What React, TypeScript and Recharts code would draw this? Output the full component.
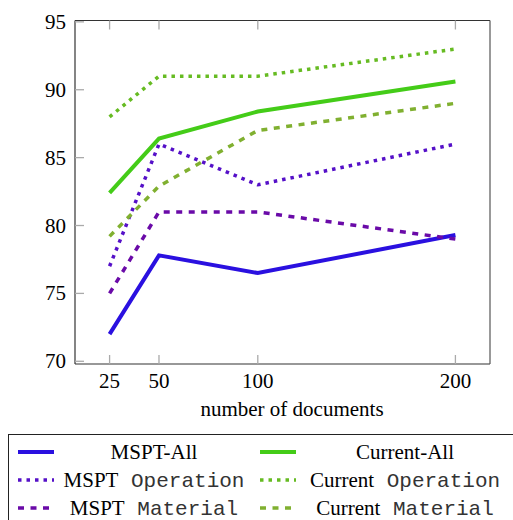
import React from "react"
import { LineChart, Line, XAxis, YAxis } from "recharts"

// number of documents
const docs = [25, 50, 100, 200]
const xTicks = [25, 50, 100, 200]
const yTicks = [70, 75, 80, 85, 90, 95]

const msptAll = [72, 77.8, 76.5, 79.3]
const currentAll = [82.4, 86.4, 88.4, 90.6]
const msptOperation = [77, 86, 83, 86]
const currentOperation = [88, 91, 91, 93]
const msptMaterial = [75, 81, 81, 79]
const currentMaterial = [79.2, 82.9, 87, 89]

const chartData = docs.map((d, i) => ({
  docs: d,
  msptAll: msptAll[i],
  currentAll: currentAll[i],
  msptOperation: msptOperation[i],
  currentOperation: currentOperation[i],
  msptMaterial: msptMaterial[i],
  currentMaterial: currentMaterial[i],
}))

const SERIF = "Liberation Serif, serif"
const MONO = "Liberation Mono, monospace"
const TICK_LEN = 9
const TICK_GAP = 8

const series = [
  { key: "msptAll", color: "#2a10e0", dash: undefined, width: 4, label: "MSPT-All", mono: "" },
  { key: "currentAll", color: "#44cc18", dash: undefined, width: 4, label: "Current-All", mono: "" },
  { key: "msptOperation", color: "#5510c8", dash: "3.5 5", width: 3.5, label: "MSPT", mono: "Operation" },
  { key: "currentOperation", color: "#66bb22", dash: "3.5 5", width: 3.5, label: "Current", mono: "Operation" },
  { key: "msptMaterial", color: "#6a0aa8", dash: "6 6.5", width: 3.5, label: "MSPT", mono: "Material" },
  { key: "currentMaterial", color: "#80b030", dash: "6 6.5", width: 3.5, label: "Current", mono: "Material" },
]

const tickText = { fontFamily: SERIF, fontSize: 21 }

// tick renderers: labels outside, tick marks drawn inward
const BottomTick = (props: any) => {
  const { x, y, payload } = props
  const axisY = y - TICK_GAP
  return (
    <g>
      <line x1={x} x2={x} y1={axisY} y2={axisY - TICK_LEN} stroke="#aaa" strokeWidth={1.3} />
      <text x={x} y={axisY + 24} textAnchor="middle" style={tickText} fill="#000">
        {payload.value}
      </text>
    </g>
  )
}

const TopTick = (props: any) => {
  const { x, y } = props
  const axisY = y + TICK_GAP
  return <line x1={x} x2={x} y1={axisY} y2={axisY + TICK_LEN} stroke="#aaa" strokeWidth={1.3} />
}

const LeftTick = (props: any) => {
  const { x, y, payload } = props
  const axisX = x + TICK_GAP
  return (
    <g>
      <line x1={axisX} x2={axisX + TICK_LEN} y1={y} y2={y} stroke="#aaa" strokeWidth={1.3} />
      <text x={axisX - 9} y={y + 7} textAnchor="end" style={tickText} fill="#000">
        {payload.value}
      </text>
    </g>
  )
}

const RightTick = (props: any) => {
  const { x, y } = props
  const axisX = x - TICK_GAP
  return <line x1={axisX} x2={axisX - TICK_LEN} y1={y} y2={y} stroke="#aaa" strokeWidth={1.3} />
}

function LegendRow({ s }: { s: (typeof series)[number] }) {
  return (
    <div style={{ display: "flex", alignItems: "center", height: 28 }}>
      <svg width={48} height={10} style={{ flex: "none" }}>
        <line x1={9} x2={45} y1={5} y2={5} stroke={s.color} strokeWidth={s.width} strokeDasharray={s.dash} />
      </svg>
      <div style={{ flex: 1, textAlign: "center", fontFamily: SERIF, fontSize: 21, whiteSpace: "nowrap" }}>
        {s.label}
        {s.mono && <span style={{ fontFamily: MONO, fontSize: 21, color: "#333" }}> {s.mono}</span>}
      </div>
    </div>
  )
}

export default function App() {
  return (
    <div style={{ position: "relative", width: 513, height: 520, background: "#fff", overflow: "hidden" }}>
      <style>{"body{margin:0}"}</style>
      <LineChart width={513} height={400} data={chartData} margin={{ top: 0, right: 0, left: 0, bottom: 0 }}>
        <XAxis
          xAxisId="b"
          dataKey="docs"
          type="number"
          domain={[7.5, 217.5]}
          ticks={xTicks}
          tickLine={false}
          tickSize={0}
          tickMargin={TICK_GAP}
          axisLine={{ stroke: "#333", strokeWidth: 1.2 }}
          tick={<BottomTick />}
          height={36}
        />
        <XAxis
          xAxisId="t"
          orientation="top"
          dataKey="docs"
          type="number"
          domain={[7.5, 217.5]}
          ticks={xTicks}
          tickLine={false}
          tickSize={0}
          tickMargin={TICK_GAP}
          axisLine={{ stroke: "#333", strokeWidth: 1.2 }}
          tick={<TopTick />}
          height={20.5}
        />
        <YAxis
          yAxisId="l"
          type="number"
          domain={[69.8, 95.1]}
          ticks={yTicks}
          tickLine={false}
          tickSize={0}
          tickMargin={TICK_GAP}
          axisLine={{ stroke: "#333", strokeWidth: 1.2 }}
          tick={<LeftTick />}
          width={75}
        />
        <YAxis
          yAxisId="r"
          orientation="right"
          type="number"
          domain={[69.8, 95.1]}
          ticks={yTicks}
          tickLine={false}
          tickSize={0}
          tickMargin={TICK_GAP}
          axisLine={{ stroke: "#555", strokeWidth: 1.2 }}
          tick={<RightTick />}
          width={23}
        />
        {series.map((s) => (
          <Line
            key={s.key}
            xAxisId="b"
            yAxisId="l"
            dataKey={s.key}
            type="linear"
            stroke={s.color}
            strokeWidth={s.width}
            strokeDasharray={s.dash}
            dot={false}
            activeDot={false}
            isAnimationActive={false}
          />
        ))}
      </LineChart>
      <div
        style={{
          position: "absolute",
          left: 0,
          width: 584,
          top: 397,
          textAlign: "center",
          fontFamily: SERIF,
          fontSize: 21,
        }}
      >
        number of documents
      </div>
      <div
        style={{
          position: "absolute",
          left: 8,
          top: 434,
          width: 520,
          height: 100,
          border: "1.2px solid #222",
          boxSizing: "border-box",
          display: "grid",
          gridTemplateColumns: "242px 260px",
          alignContent: "start",
          paddingTop: 3,
        }}
      >
        {series.map((s) => (
          <LegendRow key={s.key} s={s} />
        ))}
      </div>
    </div>
  )
}
